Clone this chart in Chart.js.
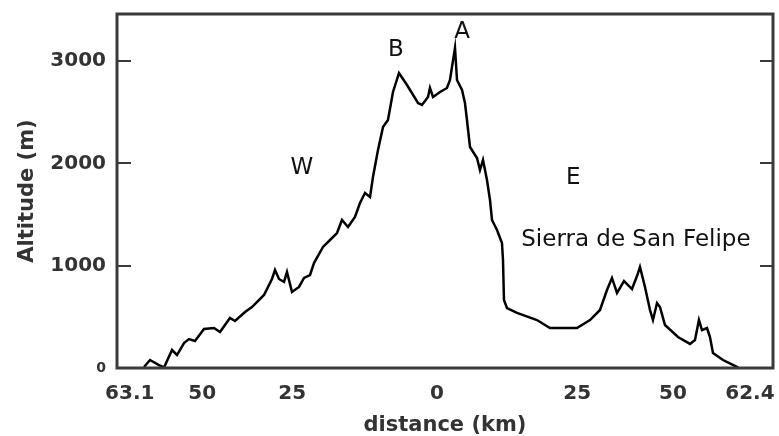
<!DOCTYPE html>
<html>
<head>
<meta charset="utf-8">
<title>Altitude profile</title>
<script src="https://cdn.jsdelivr.net/npm/chart.js@4.4.0/dist/chart.umd.min.js"></script>
<style>
  html, body { margin: 0; padding: 0; background: #fff; }
  #wrap { width: 779px; height: 436px; }
</style>
</head>
<body>
<div id="wrap"><canvas id="chart" width="779" height="436"></canvas></div>
<script>
// Profile: distance along the section, altitude in m
const distance = [
  -51.4, -50.35, -48.77, -47.89, -46.49, -45.61, -44.39, -43.51, -42.46, -40.88,
  -39.12, -38.07, -36.32, -35.44, -33.68, -32.46, -30.35, -28.95, -28.42, -27.72,
  -26.84, -26.32, -25.44, -24.21, -23.33, -22.28, -21.58, -20.0, -18.77, -17.54,
  -16.67, -15.61, -14.39, -13.51, -12.63, -11.75, -11.23, -10.35, -9.47, -8.6,
  -7.72, -6.67, -5.26, -3.33, -2.63, -1.58, -1.23, -0.7, 0.53, 1.75,
  2.28, 2.63, 3.16, 3.51, 4.39, 4.91, 5.26, 5.79, 7.02, 7.54,
  8.07, 8.77, 9.3, 9.65, 10.53, 11.4, 11.58, 11.75, 12.28, 14.04,
  17.54, 19.82, 24.56, 26.84, 28.6, 29.82, 30.7, 31.58, 32.81, 34.21,
  35.09, 35.61, 36.49, 37.37, 37.89, 38.6, 39.12, 40.0, 42.28, 44.39,
  45.26, 45.96, 46.49, 47.37, 47.89, 48.42, 50.18, 52.63, 52.98
];
const altitude = [
  10, 78, 29, 5, 176, 127, 244, 283, 264, 381,
  391, 352, 489, 459, 547, 596, 714, 870, 958, 870,
  841, 938, 743, 792, 880, 909, 1026, 1183, 1251, 1319,
  1447, 1378, 1476, 1613, 1710, 1671, 1867, 2131, 2355, 2424,
  2698, 2883, 2766, 2590, 2571, 2649, 2737, 2649, 2698, 2737,
  2815, 2942, 3128, 2815, 2717, 2590, 2424, 2160, 2053, 1935,
  2033, 1838, 1642, 1447, 1349, 1222, 1056, 665, 586, 538,
  469, 391, 391, 469, 567, 762, 880, 733, 850, 772,
  899, 987, 792, 567, 469, 635, 596, 420, 303, 235,
  274, 469, 371, 391, 303, 147, 78, 10, 0
];

// Axis ticks (labels sit where the figure prints them)
const xTickValues = [-53.9, -41.2, -25.4, 0, 24.6, 41.4, 54.9];
const xTickLabels = ['63.1', '50', '25', '0', '25', '50', '62.4'];
const yTickValues = [0, 1000, 2000, 3000];

// Text written inside the plot
const noteText = ['W', 'B', 'A', 'E', 'Sierra de San Felipe'];
const noteX = [-23.7, -7.2, 4.4, 23.9, 34.9];
const noteY = [1955, 3108, 3284, 1857, 1251];

const X_MIN = -56.14;
const X_MAX = 58.95;
const Y_MAX = 3460;

const FONT = '"DejaVu Sans", Verdana, sans-serif';
const AXIS_COLOR = '#333';

// Frame, inward tick marks and the notes
const framePlugin = {
  id: 'frame',
  afterDraw(chart) {
    const { ctx, chartArea: a, scales: { x, y } } = chart;
    ctx.save();

    ctx.strokeStyle = '#3a3a3a';
    ctx.lineWidth = 2;
    yTickValues.forEach(v => {
      if (v === 0) return;
      const py = Math.round(y.getPixelForValue(v));
      ctx.beginPath();
      ctx.moveTo(a.left, py);
      ctx.lineTo(a.left + 14, py);
      ctx.moveTo(a.right - 13, py);
      ctx.lineTo(a.right, py);
      ctx.stroke();
    });

    ctx.lineWidth = 3;
    ctx.strokeRect(a.left, a.top, a.right - a.left, a.bottom - a.top);

    ctx.fillStyle = '#111';
    ctx.font = '23px ' + FONT;
    ctx.textAlign = 'center';
    ctx.textBaseline = 'middle';
    noteText.forEach((t, i) => {
      ctx.fillText(t, x.getPixelForValue(noteX[i]), y.getPixelForValue(noteY[i]));
    });
    ctx.restore();
  }
};

const ctx = document.getElementById('chart');
new Chart(ctx, {
  type: 'line',
  data: {
    datasets: [{
      data: distance.map((d, i) => ({ x: d, y: altitude[i] })),
      borderColor: '#000',
      borderWidth: 2.5,
      pointRadius: 0,
      tension: 0,
      fill: false
    }]
  },
  options: {
    responsive: false,
    animation: false,
    layout: { padding: { left: 0, right: 6, top: 14, bottom: 0 } },
    plugins: {
      legend: { display: false },
      tooltip: { enabled: false }
    },
    scales: {
      x: {
        type: 'linear',
        min: X_MIN,
        max: X_MAX,
        afterBuildTicks: s => { s.ticks = xTickValues.map(v => ({ value: v })); },
        afterFit: s => { s.height = 68; s.paddingLeft = 0; s.paddingRight = 0; },
        grid: { display: false, drawTicks: false },
        border: { display: false },
        ticks: {
          autoSkip: false,
          maxRotation: 0,
          padding: 14,
          color: AXIS_COLOR,
          font: { family: FONT, size: 20, weight: 'bold' },
          callback: (v, i) => xTickLabels[i]
        },
        title: {
          display: true,
          text: 'distance (km)',
          color: AXIS_COLOR,
          font: { family: FONT, size: 21, weight: 'bold', lineHeight: 1.0 },
          padding: { top: 0, bottom: 0 }
        }
      },
      y: {
        min: 0,
        max: Y_MAX,
        afterBuildTicks: s => { s.ticks = yTickValues.map(v => ({ value: v })); },
        afterFit: s => { s.width = 117; s.paddingTop = 0; s.paddingBottom = 0; },
        grid: { display: false, drawTicks: false },
        border: { display: false },
        ticks: {
          padding: 11,
          color: AXIS_COLOR,
          font: c => (c.tick && c.tick.value === 0)
            ? { family: FONT, size: 14, weight: 'bold' }
            : { family: FONT, size: 20, weight: 'bold' },
          callback: v => String(v)
        },
        title: {
          display: true,
          text: 'Altitude (m)',
          color: AXIS_COLOR,
          font: { family: FONT, size: 21, weight: 'bold' },
          padding: { top: 15, bottom: 0 }
        }
      }
    }
  },
  plugins: [framePlugin]
});
</script>
</body>
</html>
